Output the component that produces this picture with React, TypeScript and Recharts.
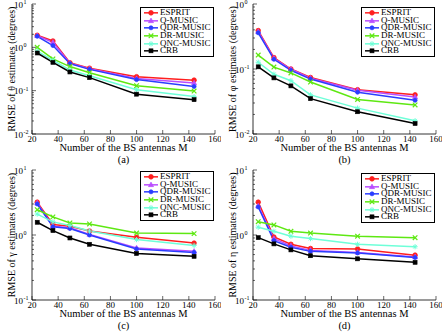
import { Legend, Line, LineChart, XAxis, YAxis } from "recharts"

const antennas = [24, 36, 49, 64, 100, 144]
const xTicks = [20, 40, 60, 80, 100, 120, 140, 160]
const seriesNames = ["ESPRIT", "Q-MUSIC", "QDR-MUSIC", "DR-MUSIC", "QNC-MUSIC", "CRB"]

// (a) RMSE of theta
const thetaEsprit = [1.9, 1.4, 0.44, 0.33, 0.21, 0.175]
const thetaQ = [1.85, 1.3, 0.43, 0.32, 0.19, 0.15]
const thetaQdr = [1.8, 1.1, 0.42, 0.31, 0.18, 0.125]
const thetaDr = [1.0, 0.54, 0.36, 0.26, 0.13, 0.098]
const thetaQnc = [0.82, 0.5, 0.3, 0.22, 0.105, 0.073]
const thetaCrb = [0.74, 0.45, 0.27, 0.2, 0.083, 0.062]

// (b) RMSE of phi
const phiEsprit = [0.39, 0.15, 0.1, 0.074, 0.048, 0.04]
const phiQ = [0.375, 0.146, 0.099, 0.072, 0.047, 0.037]
const phiQdr = [0.36, 0.141, 0.095, 0.07, 0.044, 0.033]
const phiDr = [0.164, 0.107, 0.087, 0.063, 0.034, 0.028]
const phiQnc = [0.127, 0.083, 0.066, 0.04, 0.025, 0.016]
const phiCrb = [0.108, 0.073, 0.055, 0.035, 0.022, 0.0145]

// (c) RMSE of gamma
const gammaEsprit = [3.2, 1.45, 1.36, 1.15, 0.92, 0.75]
const gammaQ = [3.1, 1.36, 1.29, 1.02, 0.63, 0.56]
const gammaQdr = [3.0, 1.34, 1.26, 1.0, 0.61, 0.54]
const gammaDr = [2.45, 1.9, 1.53, 1.48, 1.07, 1.05]
const gammaQnc = [2.1, 1.59, 1.4, 1.15, 0.85, 0.69]
const gammaCrb = [1.57, 1.17, 0.9, 0.72, 0.52, 0.47]

// (d) RMSE of eta
const etaEsprit = [3.2, 0.93, 0.72, 0.62, 0.61, 0.49]
const etaQ = [2.8, 0.88, 0.68, 0.58, 0.54, 0.46]
const etaQdr = [2.7, 0.82, 0.65, 0.56, 0.53, 0.45]
const etaDr = [1.6, 1.43, 1.14, 1.07, 0.96, 0.91]
const etaQnc = [1.32, 1.14, 0.96, 0.88, 0.72, 0.66]
const etaCrb = [0.91, 0.73, 0.59, 0.48, 0.43, 0.38]

const colors = ["#ff1f1f", "#b94dff", "#2a3dff", "#5ee812", "#6effd8", "#000000"]
const shapes = ["circle", "triangle", "dot", "cross", "star", "square"]
const font = '"Liberation Serif", "Times New Roman", serif'

function toRows(series: number[][]) {
  return antennas.map((m, i) => {
    const row: Record<string, number> = { M: m }
    seriesNames.forEach((name, s) => {
      row[name] = series[s][i]
    })
    return row
  })
}

function logTicks(lo: number, hi: number) {
  const out: number[] = []
  const e0 = Math.round(Math.log10(lo))
  const e1 = Math.round(Math.log10(hi))
  for (let e = e0; e <= e1; e++) {
    out.push(Number(Math.pow(10, e).toPrecision(3)))
    if (e < e1) {
      for (let k = 2; k <= 9; k++) out.push(Number((k * Math.pow(10, e)).toPrecision(3)))
    }
  }
  return out
}

function MarkShape({ shape, color, cx, cy }: { shape: string; color: string; cx: number; cy: number }) {
  const r = 2.3
  if (shape === "circle") return <circle cx={cx} cy={cy} r={r} fill={color} stroke={color} strokeWidth={0.8} />
  if (shape === "dot") return <circle cx={cx} cy={cy} r={2} fill={color} stroke={color} strokeWidth={0.8} />
  if (shape === "square")
    return <rect x={cx - 2} y={cy - 2} width={4} height={4} fill={color} stroke={color} strokeWidth={0.6} />
  if (shape === "triangle")
    return (
      <polygon
        points={`${cx},${cy - 2.8} ${cx - 2.6},${cy + 1.8} ${cx + 2.6},${cy + 1.8}`}
        fill={color}
        stroke={color}
        strokeWidth={0.6}
      />
    )
  if (shape === "cross")
    return (
      <g stroke={color} strokeWidth={1.2}>
        <line x1={cx - r} y1={cy - r} x2={cx + r} y2={cy + r} />
        <line x1={cx - r} y1={cy + r} x2={cx + r} y2={cy - r} />
      </g>
    )
  return (
    <g stroke={color} strokeWidth={1}>
      <line x1={cx - 2.6} y1={cy} x2={cx + 2.6} y2={cy} />
      <line x1={cx} y1={cy - 2.6} x2={cx} y2={cy + 2.6} />
      <line x1={cx - 1.8} y1={cy - 1.8} x2={cx + 1.8} y2={cy + 1.8} />
      <line x1={cx - 1.8} y1={cy + 1.8} x2={cx + 1.8} y2={cy - 1.8} />
    </g>
  )
}

function dotFor(s: number) {
  return (props: any) => {
    if (props.cx == null || props.cy == null) return <g key={props.key} />
    return (
      <g key={props.key}>
        <MarkShape shape={shapes[s]} color={colors[s]} cx={props.cx} cy={props.cy} />
      </g>
    )
  }
}

const isMajor = (v: number) => Math.abs(Math.log10(v) - Math.round(Math.log10(v))) < 1e-6

function LeftTick(props: any) {
  const { x, y, payload } = props
  const v = payload.value
  const major = isMajor(v)
  const e = Math.round(Math.log10(v))
  return (
    <g>
      <line x1={x} x2={x + (major ? 4 : 2)} y1={y} y2={y} stroke="#000" strokeWidth={0.6} />
      {major && (
        <text x={x - 9} y={y + 3.5} textAnchor="end" fontFamily={font} fontSize={9} fill="#000">
          10
        </text>
      )}
      {major && (
        <text x={x - 8.5} y={y} textAnchor="start" fontFamily={font} fontSize={6} fill="#000">
          {e}
        </text>
      )}
    </g>
  )
}

function RightTick(props: any) {
  const { x, y, payload } = props
  const major = isMajor(payload.value)
  return <line x1={x} x2={x - (major ? 4 : 2)} y1={y} y2={y} stroke="#000" strokeWidth={0.6} />
}

function BottomTick(props: any) {
  const { x, y, payload } = props
  return (
    <g>
      <line x1={x} x2={x} y1={y} y2={y - 4} stroke="#000" strokeWidth={0.6} />
      <text x={x} y={y + 7.5} textAnchor="middle" fontFamily={font} fontSize={9} fill="#000">
        {payload.value}
      </text>
    </g>
  )
}

function TopTick(props: any) {
  const { x, y } = props
  return <line x1={x} x2={x} y1={y} y2={y + 4} stroke="#000" strokeWidth={0.6} />
}

function LegendBox({ height }: { height: number }) {
  const rowH = (height - 4) / 6
  return (
    <div
      style={{
        width: 74,
        height,
        border: "0.8px solid #000",
        background: "#fff",
        boxSizing: "border-box",
        paddingTop: 1,
        fontFamily: font,
        fontSize: 9,
        lineHeight: `${rowH}px`,
        color: "#000",
      }}
    >
      {seriesNames.map((name, s) => (
        <div key={name} style={{ display: "flex", alignItems: "center", height: rowH, overflow: "visible" }}>
          <svg width={18} height={rowH} style={{ flex: "none", overflow: "visible" }}>
            <line x1={3} x2={17} y1={rowH / 2} y2={rowH / 2} stroke={colors[s]} strokeWidth={1.5} />
            <MarkShape shape={shapes[s]} color={colors[s]} cx={10} cy={rowH / 2} />
          </svg>
          <span
            style={{
              display: "inline-block",
              height: rowH,
              lineHeight: `${rowH}px`,
              marginLeft: 1,
              whiteSpace: "nowrap",
              overflow: "visible",
            }}
          >
            {name}
          </span>
        </div>
      ))}
    </div>
  )
}

interface PanelProps {
  series: number[][]
  lo: number
  hi: number
  symbol: string
  caption: string
  left: number
  top: number
  legendTop: number
  legendHeight: number
}

function Panel({ series, lo, hi, symbol, caption, left, top, legendTop, legendHeight }: PanelProps) {
  const data = toRows(series)
  const yTicks = logTicks(lo, hi)
  return (
    <div style={{ position: "absolute", left, top, width: 221, height: 166 }}>
      <LineChart width={221} height={166} data={data} margin={{ top: 4, right: 6, bottom: 0, left: 0 }}>
        <XAxis
          dataKey="M"
          type="number"
          domain={[20, 160]}
          ticks={xTicks}
          interval={0}
          height={32}
          tickSize={0}
          tickMargin={0}
          tick={<BottomTick />}
          axisLine={{ stroke: "#000", strokeWidth: 0.8 }}
          allowDataOverflow
        />
        <XAxis
          xAxisId="top"
          orientation="top"
          type="number"
          domain={[20, 160]}
          ticks={xTicks}
          interval={0}
          height={0}
          tickSize={0}
          tickMargin={0}
          tick={<TopTick />}
          axisLine={{ stroke: "#000", strokeWidth: 0.8 }}
          allowDataOverflow
        />
        <YAxis
          scale="log"
          type="number"
          domain={[lo, hi]}
          ticks={yTicks}
          interval={0}
          width={32}
          tickSize={0}
          tickMargin={0}
          tick={<LeftTick />}
          axisLine={{ stroke: "#000", strokeWidth: 0.8 }}
          allowDataOverflow
        />
        <YAxis
          yAxisId="right"
          orientation="right"
          scale="log"
          type="number"
          domain={[lo, hi]}
          ticks={yTicks}
          interval={0}
          width={0}
          tickSize={0}
          tickMargin={0}
          tick={<RightTick />}
          axisLine={{ stroke: "#000", strokeWidth: 0.8 }}
          allowDataOverflow
        />
        {seriesNames.map((name, s) => (
          <Line
            key={name}
            dataKey={name}
            name={name}
            type="linear"
            stroke={colors[s]}
            strokeWidth={1.5}
            dot={dotFor(s)}
            activeDot={false}
            isAnimationActive={false}
          />
        ))}
        <Legend
          layout="vertical"
          align="center"
          verticalAlign="middle"
          wrapperStyle={{ left: 140, top: legendTop, width: 74 }}
          content={() => <LegendBox height={legendHeight} />}
        />
      </LineChart>
      <div
        style={{
          position: "absolute",
          left: 0,
          top: 142,
          width: 247,
          textAlign: "center",
          fontFamily: font,
          fontSize: 10.5,
          lineHeight: "12px",
        }}
      >
        Number of the BS antennas M
        <br />
        {caption}
      </div>
      <div
        style={{
          position: "absolute",
          left: 12 - 70,
          top: 69 - 6,
          width: 140,
          height: 12,
          lineHeight: "12px",
          textAlign: "center",
          transform: "rotate(-90deg)",
          fontFamily: font,
          fontSize: 10,
          whiteSpace: "nowrap",
        }}
      >
        RMSE of {symbol} estimates (degrees)
      </div>
    </div>
  )
}

export default function App() {
  return (
    <div style={{ position: "absolute", left: 0, top: 0, width: 443, height: 332, background: "#fff" }}>
      <Panel
        series={[thetaEsprit, thetaQ, thetaQdr, thetaDr, thetaQnc, thetaCrb]}
        lo={0.01}
        hi={10}
        symbol="θ"
        caption="(a)"
        left={0}
        top={0}
        legendTop={7}
        legendHeight={50}
      />
      <Panel
        series={[phiEsprit, phiQ, phiQdr, phiDr, phiQnc, phiCrb]}
        lo={0.01}
        hi={1}
        symbol="φ"
        caption="(b)"
        left={221}
        top={0}
        legendTop={7}
        legendHeight={50}
      />
      <Panel
        series={[gammaEsprit, gammaQ, gammaQdr, gammaDr, gammaQnc, gammaCrb]}
        lo={0.1}
        hi={10}
        symbol="γ"
        caption="(c)"
        left={0}
        top={166}
        legendTop={5}
        legendHeight={50}
      />
      <Panel
        series={[etaEsprit, etaQ, etaQdr, etaDr, etaQnc, etaCrb]}
        lo={0.1}
        hi={10}
        symbol="η"
        caption="(d)"
        left={221}
        top={166}
        legendTop={7}
        legendHeight={50}
      />
    </div>
  )
}
